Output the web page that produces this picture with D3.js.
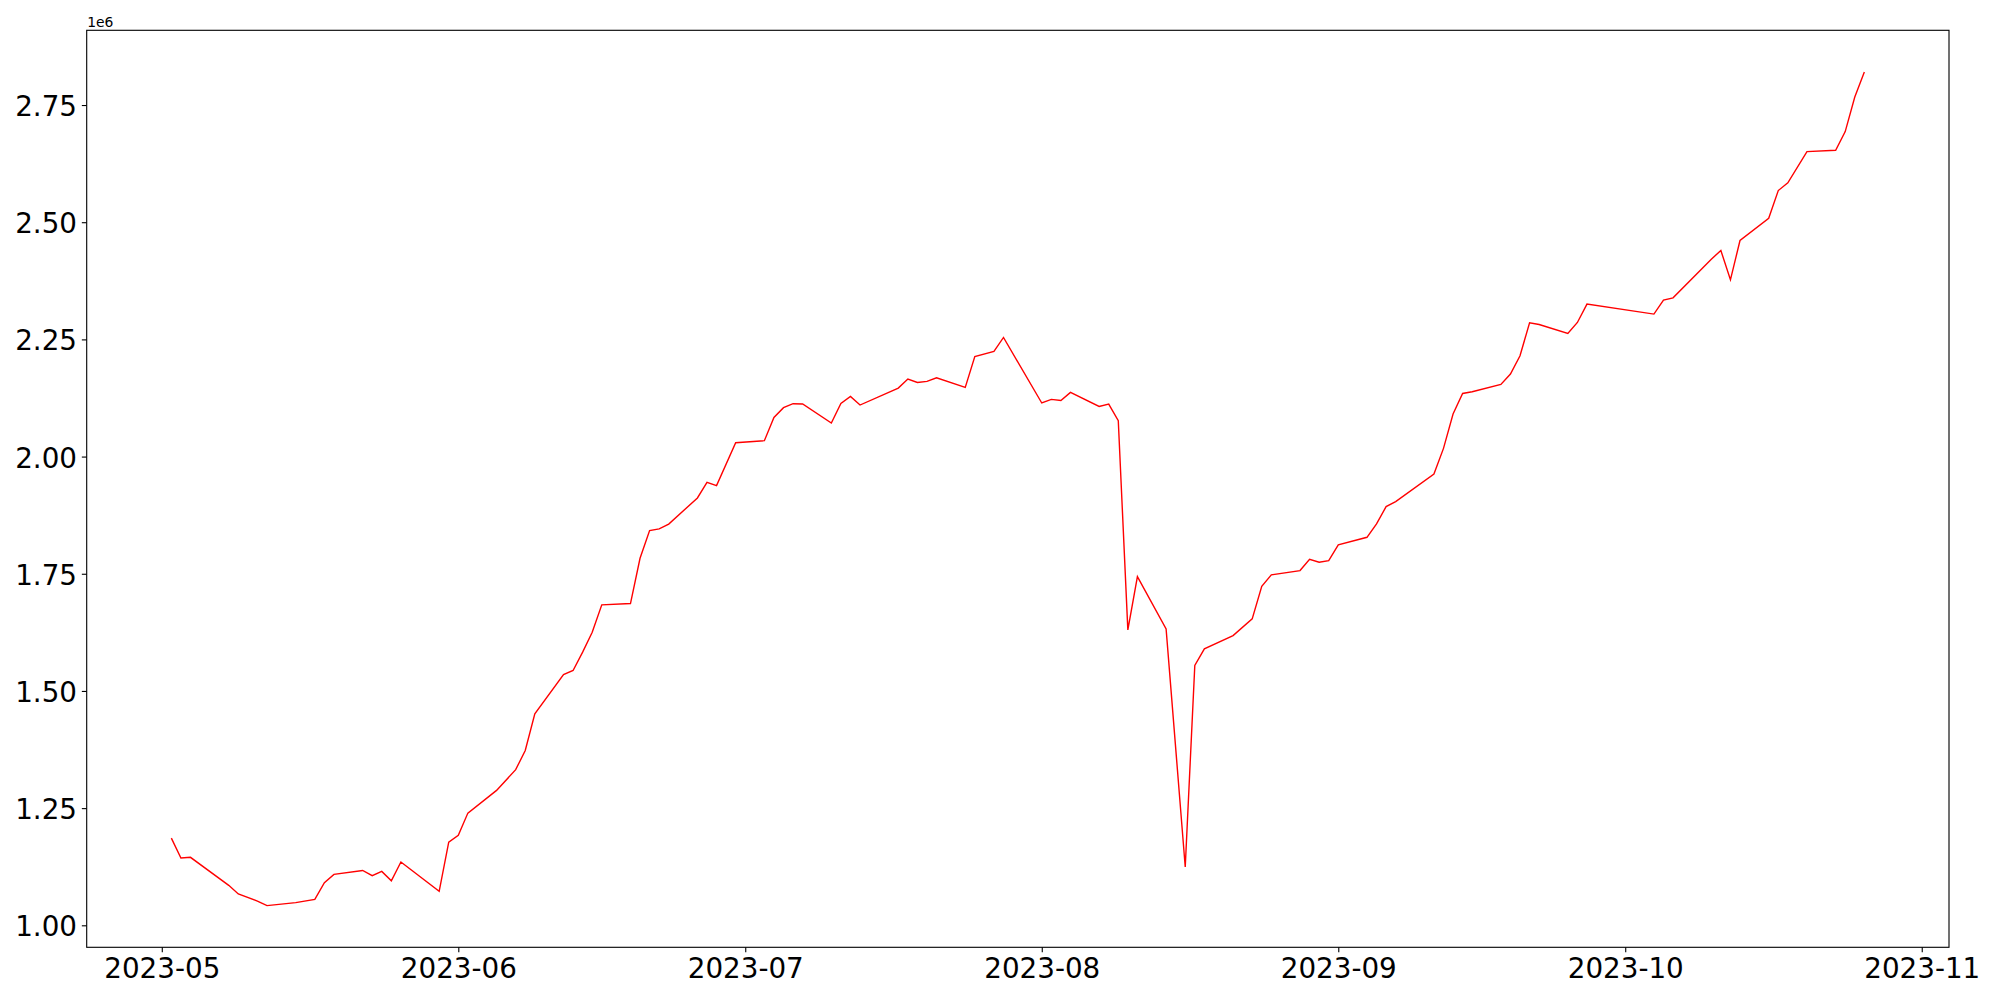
<!DOCTYPE html>
<html>
<head>
<meta charset="utf-8">
<script src="https://cdn.jsdelivr.net/npm/d3@7"></script>
<style>
  html, body { margin: 0; padding: 0; background: #fff; }
  svg { display: block; }
  text { font-family: "DejaVu Sans", sans-serif; fill: #000; }
</style>
</head>
<body>
<svg id="chart" width="2000" height="1000"></svg>
<script>
const dates = [
  "2023-05-02","2023-05-03","2023-05-04","2023-05-08","2023-05-09","2023-05-11","2023-05-12",
  "2023-05-15","2023-05-17","2023-05-18","2023-05-19","2023-05-22","2023-05-23","2023-05-24",
  "2023-05-25","2023-05-26","2023-05-30","2023-05-31","2023-06-01","2023-06-02","2023-06-05",
  "2023-06-07","2023-06-08","2023-06-09","2023-06-12","2023-06-13","2023-06-14","2023-06-15",
  "2023-06-16","2023-06-19","2023-06-20","2023-06-21","2023-06-22","2023-06-23","2023-06-26",
  "2023-06-27","2023-06-28","2023-06-30","2023-07-03","2023-07-04","2023-07-05","2023-07-06",
  "2023-07-07","2023-07-10","2023-07-11","2023-07-12","2023-07-13","2023-07-17","2023-07-18",
  "2023-07-19","2023-07-20","2023-07-21","2023-07-24","2023-07-25","2023-07-27","2023-07-28",
  "2023-08-01","2023-08-02","2023-08-03","2023-08-04","2023-08-07","2023-08-08","2023-08-09",
  "2023-08-10","2023-08-11","2023-08-14","2023-08-16","2023-08-17","2023-08-18","2023-08-21",
  "2023-08-23","2023-08-24","2023-08-25","2023-08-28","2023-08-29","2023-08-30","2023-08-31",
  "2023-09-01","2023-09-04","2023-09-05","2023-09-06","2023-09-07","2023-09-11","2023-09-12",
  "2023-09-13","2023-09-14","2023-09-15","2023-09-18","2023-09-19","2023-09-20","2023-09-21",
  "2023-09-22","2023-09-25","2023-09-26","2023-09-27","2023-10-04","2023-10-05","2023-10-06",
  "2023-10-10","2023-10-11","2023-10-12","2023-10-13","2023-10-16","2023-10-17","2023-10-18",
  "2023-10-20","2023-10-23","2023-10-24","2023-10-25","2023-10-26"
];
const values = [
  1186000,1143500,1145000,1085300,1066800,1051800,1042000,
  1048400,1055400,1091000,1108700,1117000,1106000,1115000,
  1095000,1135000,1072500,1177600,1192000,1239400,1287800,
  1332000,1373000,1451000,1535000,1543600,1582700,1625300,
  1683600,1686400,1783000,1842000,1845600,1856000,1911700,
  1945000,1938000,2029600,2033900,2083600,2104300,2112800,
  2112100,2071600,2113400,2128300,2110000,2146200,2165400,
  2158200,2160300,2168200,2147500,2213600,2224300,2254100,
  2114300,2122000,2119800,2136900,2107000,2112000,2076500,
  1630300,1744000,1632500,1124300,1554300,1589800,1618200,
  1653800,1723400,1747600,1756800,1781000,1774500,1778000,
  1811500,1827800,1856300,1893200,1903900,1962900,2017500,
  2090800,2134700,2138300,2154000,2176000,2215000,2285400,
  2281800,2262700,2286100,2325300,2304000,2333800,2338700,
  2421200,2439600,2377100,2461000,2508500,2567500,2583900,
  2650600,2653500,2693300,2767200,2820500
];
const yTicks = [1000000,1250000,1500000,1750000,2000000,2250000,2500000,2750000];
const xTickFormat = "%Y-%m";
const offsetLabel = "1e6";

(function () {
  const parse = d3.utcParse("%Y-%m-%d");
  const data = dates.map((d, i) => ({ date: parse(d), value: values[i] }));

  const mLeft = 86.7, mRight = 1949, mTop = 30.3, mBottom = 947.3;
  const fs = 27.78;
  const tickLen = 4.86, tickPad = 4.86;

  const xExt = d3.extent(data, d => d.date);
  const xSpan = xExt[1] - xExt[0];
  const x = d3.scaleUtc()
    .domain([new Date(+xExt[0] - 0.05 * xSpan), new Date(+xExt[1] + 0.05 * xSpan)])
    .range([mLeft, mRight]);

  const yExt = d3.extent(values);
  const ySpan = yExt[1] - yExt[0];
  const y = d3.scaleLinear()
    .domain([yExt[0] - 0.05 * ySpan, yExt[1] + 0.05 * ySpan])
    .range([mBottom, mTop]);

  const svg = d3.select("#chart");

  const line = d3.line().x(d => x(d.date)).y(d => y(d.value));
  svg.append("path")
    .datum(data)
    .attr("d", line)
    .attr("fill", "none")
    .attr("stroke", "#ff0000")
    .attr("stroke-width", 1.4)
    .attr("stroke-linejoin", "miter");

  const xAxis = d3.axisBottom(x)
    .ticks(d3.utcMonth.every(1))
    .tickFormat(d3.utcFormat(xTickFormat))
    .tickSize(tickLen)
    .tickSizeOuter(0)
    .tickPadding(tickPad);
  const gx = svg.append("g").attr("transform", `translate(0,${mBottom})`).call(xAxis);
  gx.select(".domain").remove();
  gx.selectAll(".tick line").attr("stroke", "#000").attr("stroke-width", 1.11);
  gx.selectAll(".tick text")
    .attr("font-size", fs)
    .attr("font-family", "DejaVu Sans")
    .attr("fill", "#000")
    .attr("dy", "0.76em");

  const yAxis = d3.axisLeft(y)
    .tickValues(yTicks)
    .tickFormat(d => (d / 1e6).toFixed(2))
    .tickSize(tickLen)
    .tickSizeOuter(0)
    .tickPadding(tickPad);
  const gy = svg.append("g").attr("transform", `translate(${mLeft},0)`).call(yAxis);
  gy.select(".domain").remove();
  gy.selectAll(".tick line").attr("stroke", "#000").attr("stroke-width", 1.11);
  gy.selectAll(".tick text")
    .attr("font-size", fs)
    .attr("font-family", "DejaVu Sans")
    .attr("fill", "#000")
    .attr("dy", "0.38em");

  svg.append("rect")
    .attr("x", mLeft).attr("y", mTop)
    .attr("width", mRight - mLeft).attr("height", mBottom - mTop)
    .attr("fill", "none")
    .attr("stroke", "#000")
    .attr("stroke-width", 1.11);

  svg.append("text")
    .attr("x", mLeft + 0.5)
    .attr("y", 26.5)
    .attr("font-size", 13.9)
    .text(offsetLabel);
})();
</script>
</body>
</html>
